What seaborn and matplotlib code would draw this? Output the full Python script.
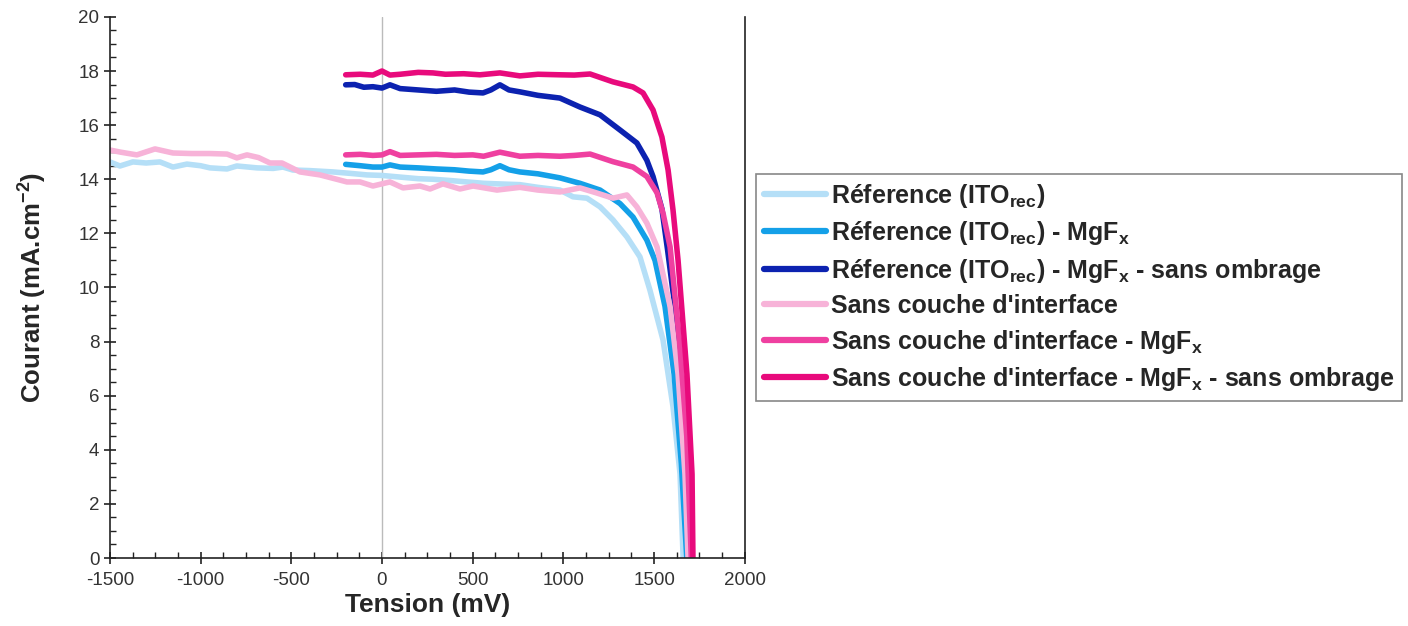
import numpy as np
import pandas as pd
import matplotlib
matplotlib.use('Agg')
import matplotlib.pyplot as plt
from matplotlib.ticker import AutoMinorLocator, MultipleLocator
import seaborn as sns

# J-V curves (tension in mV, courant in mA.cm-2)
ref_x = [-1500, -1444, -1373, -1300, -1224, -1152, -1075, -1000, -948, -854, -800, -689, -600, -546,
         -491, -400, -270, -180, -83, 0, 99, 200, 281, 380, 469, 560, 634, 760, 860, 981, 1053, 1130,
         1202, 1273, 1350, 1422, 1477, 1549, 1604, 1643, 1660]
ref_y = [14.64, 14.49, 14.64, 14.6, 14.64, 14.45, 14.56, 14.5, 14.42, 14.38, 14.49, 14.42, 14.4, 14.45,
         14.34, 14.32, 14.27, 14.22, 14.16, 14.14, 14.08, 14.02, 14.0, 13.95, 13.9, 13.85, 13.83, 13.8,
         13.7, 13.6, 13.35, 13.3, 12.98, 12.5, 11.87, 11.13, 9.9, 8.06, 5.6, 3.1, 0.0]

ref_mgf_x = [-200, -120, -50, 0, 44, 100, 200, 300, 400, 480, 557, 600, 650, 700, 760, 860, 981, 1091,
             1202, 1312, 1384, 1460, 1505, 1560, 1610, 1650, 1680]
ref_mgf_y = [14.55, 14.5, 14.45, 14.45, 14.53, 14.45, 14.42, 14.38, 14.35, 14.3, 14.27, 14.35, 14.5, 14.35,
             14.27, 14.2, 14.05, 13.85, 13.6, 13.1, 12.6, 11.75, 11.0, 9.3, 6.8, 3.5, 0.0]

ref_mgf_so_x = [-200, -150, -100, -50, 0, 44, 100, 200, 300, 400, 480, 557, 600, 650, 700, 760, 860, 981,
                1091, 1202, 1312, 1405, 1460, 1494, 1543, 1574, 1626, 1660, 1698]
ref_mgf_so_y = [17.49, 17.5, 17.4, 17.42, 17.37, 17.49, 17.35, 17.3, 17.25, 17.3, 17.22, 17.19, 17.3, 17.49,
                17.3, 17.23, 17.1, 17.0, 16.67, 16.38, 15.82, 15.34, 14.7, 14.1, 12.9, 11.4, 8.7, 5.6, 0.0]

sci_x = [-1500, -1440, -1351, -1251, -1152, -1050, -950, -854, -800, -744, -680, -617, -551, -452, -342,
         -250, -193, -121, -50, 44, 116, 209, 265, 336, 430, 502, 634, 760, 860, 981, 1091, 1180, 1273,
         1350, 1405, 1460, 1516, 1588, 1632, 1670, 1687]
sci_y = [15.08, 15.0, 14.9, 15.12, 14.97, 14.95, 14.95, 14.93, 14.79, 14.9, 14.8, 14.6, 14.6, 14.27, 14.16,
         14.0, 13.9, 13.9, 13.75, 13.9, 13.68, 13.75, 13.64, 13.83, 13.64, 13.75, 13.6, 13.7, 13.6, 13.53,
         13.68, 13.5, 13.3, 13.42, 12.98, 12.38, 11.5, 9.3, 6.8, 3.1, 0.0]

sci_mgf_x = [-200, -120, -50, 0, 44, 100, 200, 300, 400, 500, 560, 650, 760, 860, 981, 1060, 1147, 1273,
             1384, 1460, 1516, 1549, 1588, 1640, 1680, 1705]
sci_mgf_y = [14.9, 14.92, 14.88, 14.9, 15.02, 14.88, 14.9, 14.92, 14.88, 14.9, 14.85, 15.0, 14.85, 14.88,
             14.85, 14.88, 14.93, 14.65, 14.45, 14.1, 13.5, 12.75, 11.5, 8.0, 4.5, 0.0]

sci_mgf_so_x = [-200, -120, -50, 0, 44, 100, 200, 281, 350, 450, 540, 650, 760, 860, 981, 1060, 1147, 1273,
                1384, 1439, 1494, 1543, 1577, 1604, 1632, 1681, 1709, 1714]
sci_mgf_so_y = [17.86, 17.88, 17.85, 18.0, 17.85, 17.88, 17.95, 17.93, 17.88, 17.9, 17.86, 17.93, 17.82,
                17.88, 17.86, 17.85, 17.89, 17.6, 17.41, 17.19, 16.56, 15.56, 14.34, 12.87, 11.0, 6.8, 3.1, 0.0]

labels = [r"Réference (ITO$_{\mathbf{rec}}$)",
          r"Réference (ITO$_{\mathbf{rec}}$) - MgF$_{\mathbf{x}}$",
          r"Réference (ITO$_{\mathbf{rec}}$) - MgF$_{\mathbf{x}}$ - sans ombrage",
          "Sans couche d'interface",
          r"Sans couche d'interface - MgF$_{\mathbf{x}}$",
          r"Sans couche d'interface - MgF$_{\mathbf{x}}$ - sans ombrage"]
colors = ['#b5dff7', '#14a0e8', '#0c22b0', '#f7b3d8', '#ef40a0', '#e80a7c']

series = [(ref_x, ref_y), (ref_mgf_x, ref_mgf_y), (ref_mgf_so_x, ref_mgf_so_y),
          (sci_x, sci_y), (sci_mgf_x, sci_mgf_y), (sci_mgf_so_x, sci_mgf_so_y)]

sns.set_style('ticks')
plt.rcParams['font.family'] = ['Liberation Sans', 'DejaVu Sans']
plt.rcParams['mathtext.fontset'] = 'custom'
plt.rcParams['mathtext.rm'] = 'Liberation Sans'
plt.rcParams['mathtext.bf'] = 'Liberation Sans:bold'
plt.rcParams['axes.unicode_minus'] = False

fig = plt.figure(figsize=(14.08, 6.26), dpi=100)
ax = fig.add_axes([0.078, 0.1086, 0.451, 0.8644])

ax.axvline(0, color='#bbbbbb', lw=1, zorder=1)

for (xs, ys), lab, col in zip(series, labels, colors):
    df = pd.DataFrame({'x': xs, 'y': ys})
    sns.lineplot(data=df, x='x', y='y', ax=ax, color=col, lw=4, label=lab,
                 sort=False, estimator=None)

ax.set_xlim(-1500, 2000)
ax.set_ylim(0, 20)
ax.xaxis.set_major_locator(MultipleLocator(500))
ax.yaxis.set_major_locator(MultipleLocator(2))
ax.xaxis.set_minor_locator(AutoMinorLocator(4))
ax.yaxis.set_minor_locator(AutoMinorLocator(4))
ax.tick_params(which='major', direction='inout', length=8, width=1.2, labelsize=13.5, colors='#222222')
ax.tick_params(axis='x', which='major', pad=6)
ax.tick_params(which='minor', direction='in', length=4, width=1, colors='#222222')
ax.tick_params(axis='both', labelcolor='#333333')

ax.spines['top'].set_visible(False)
for s in ['left', 'bottom', 'right']:
    ax.spines[s].set_linewidth(1.2)
    ax.spines[s].set_color('#222222')

ax.set_xlabel('Tension (mV)', fontsize=19, fontweight='bold', labelpad=3)
ax.set_ylabel(r'Courant (mA.cm$^{\mathbf{-2}}$)', fontsize=18.5, fontweight='bold', labelpad=22)

leg = ax.legend(loc='upper left', bbox_to_anchor=(0.537, 0.722), bbox_transform=fig.transFigure,
                fancybox=False, edgecolor='#888888', framealpha=1, handlelength=2.5,
                handletextpad=0.2, labelspacing=0.38, borderpad=0.3, borderaxespad=0,
                prop={'size': 18, 'weight': 'bold'})
leg.get_frame().set_linewidth(1.2)
for h in leg.get_lines():
    h.set_linewidth(4.5)

fig.savefig('out.png', dpi=100)
